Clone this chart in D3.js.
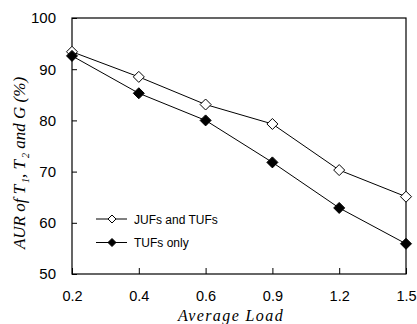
<!DOCTYPE html>
<html>
<head>
<meta charset="utf-8">
<script src="https://cdn.jsdelivr.net/npm/d3@7"></script>
<style>
  body { margin: 0; background: #fff; }
  svg { display: block; }
</style>
</head>
<body>
<div id="chart"></div>
<script>
// Data
const loads = ["0.2", "0.4", "0.6", "0.9", "1.2", "1.5"];
const jufsAndTufs = [93.4, 88.5, 83.1, 79.3, 70.3, 65.1];
const tufsOnly = [92.6, 85.3, 80.0, 71.8, 62.9, 55.9];
const yTicks = [50, 60, 70, 80, 90, 100];

const width = 417, height = 324;
const margin = { top: 18, right: 11, bottom: 50, left: 72 };

const svg = d3.select("#chart")
    .append("svg")
    .attr("width", width)
    .attr("height", height);

const x = d3.scalePoint()
    .domain(loads)
    .range([margin.left, width - margin.right]);

const y = d3.scaleLinear()
    .domain([50, 100])
    .range([height - margin.bottom, margin.top]);

// Axes (ticks point inward)
const xAxis = svg.append("g")
    .attr("transform", `translate(0,${height - margin.bottom})`)
    .call(d3.axisBottom(x).tickSizeInner(-6).tickSizeOuter(0).tickPadding(17));
xAxis.select(".domain").remove();
xAxis.selectAll("text")
    .style("font-family", "'Liberation Sans', Arial, sans-serif")
    .style("font-size", "14.5px")
    .attr("fill", "#000");

const yAxis = svg.append("g")
    .attr("transform", `translate(${margin.left},0)`)
    .call(d3.axisLeft(y).tickValues(yTicks).tickSizeInner(-5).tickSizeOuter(0).tickPadding(16));
yAxis.select(".domain").remove();
yAxis.selectAll("text")
    .style("font-family", "'Liberation Sans', Arial, sans-serif")
    .style("font-size", "15px")
    .attr("fill", "#000");

// Frame
svg.append("rect")
    .attr("x", margin.left)
    .attr("y", margin.top)
    .attr("width", width - margin.left - margin.right)
    .attr("height", height - margin.top - margin.bottom)
    .attr("fill", "none")
    .attr("stroke", "#000")
    .attr("stroke-width", 1.2);

// Diamond marker
const diamond = r => `M0,${-r}L${r},0L0,${r}L${-r},0Z`;

const series = [
    { name: "JUFs and TUFs", values: jufsAndTufs, fill: "#fff", r: 5.5 },
    { name: "TUFs only", values: tufsOnly, fill: "#000", r: 5.5 }
];

const line = d3.line()
    .x((d, i) => x(loads[i]))
    .y(d => y(d));

series.forEach(s => {
    svg.append("path")
        .datum(s.values)
        .attr("d", line)
        .attr("fill", "none")
        .attr("stroke", "#000")
        .attr("stroke-width", 1);

    svg.selectAll(null)
        .data(s.values)
        .enter()
        .append("path")
        .attr("transform", (d, i) => `translate(${x(loads[i])},${y(d)})`)
        .attr("d", diamond(s.r))
        .attr("fill", s.fill)
        .attr("stroke", "#000")
        .attr("stroke-width", 1);
});

// Legend
const legend = svg.append("g")
    .attr("transform", "translate(96,219)");

series.forEach((s, i) => {
    const g = legend.append("g").attr("transform", `translate(0,${i * 23.5})`);
    g.append("line")
        .attr("x1", 0).attr("x2", 31)
        .attr("y1", 0).attr("y2", 0)
        .attr("stroke", "#000");
    g.append("path")
        .attr("transform", "translate(16,0)")
        .attr("d", diamond(4))
        .attr("fill", s.fill)
        .attr("stroke", "#000");
    g.append("text")
        .attr("x", 38)
        .attr("y", 4.5)
        .style("font-family", "'Liberation Sans', Arial, sans-serif")
        .style("font-size", "12px")
        .text(s.name);
});

// Axis titles
svg.append("text")
    .attr("x", 231)
    .attr("y", 321)
    .attr("text-anchor", "middle")
    .style("font-family", "'Liberation Serif', 'Times New Roman', serif")
    .style("font-style", "italic")
    .style("font-size", "16px")
    .style("letter-spacing", "1.4px")
    .text("Average Load");

const yTitle = svg.append("text")
    .attr("transform", "translate(25,163) rotate(-90)")
    .attr("text-anchor", "middle")
    .style("font-family", "'Liberation Serif', 'Times New Roman', serif")
    .style("font-style", "italic")
    .style("font-size", "17px");
yTitle.append("tspan").text("AUR of T");
yTitle.append("tspan").attr("dy", 4).attr("dx", 2).style("font-size", "10px").text("1");
yTitle.append("tspan").attr("dy", -4).text(", T");
yTitle.append("tspan").attr("dy", 4).attr("dx", 2).style("font-size", "10px").text("2");
yTitle.append("tspan").attr("dy", -4).text(" and G (%)");
</script>
</body>
</html>
